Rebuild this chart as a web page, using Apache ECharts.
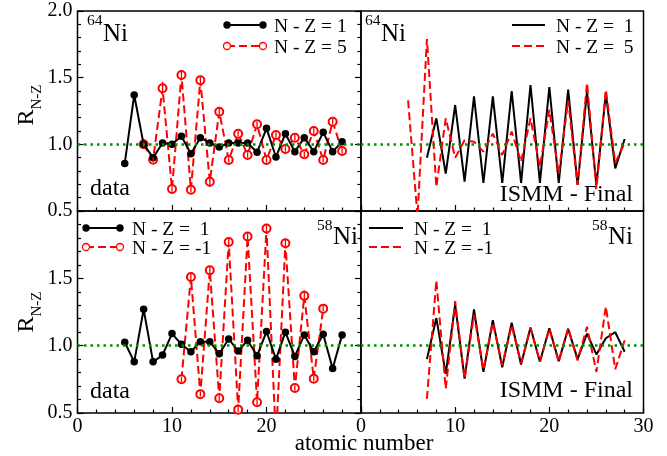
<!DOCTYPE html>
<html>
<head>
<meta charset="utf-8">
<script src="https://cdn.jsdelivr.net/npm/echarts@6/dist/echarts.min.js"></script>
<style>html,body{margin:0;padding:0;background:#fff}#c{width:667px;height:456px}</style>
</head>
<body>
<div id="c"></div>
<script>
// ---------- data (atomic number Z, ratio R_{N-Z}) ----------
// 64Ni data
const tlBlackStart = 5;
const tlBlack = [0.857,1.37,1.0,0.90,1.01,1.0,1.06,0.93,1.05,1.01,0.98,1.01,1.01,1.01,0.94,1.12,0.905,1.08,0.945,1.05,0.945,1.09,0.945,1.02];
const tlRedStart = 7;
const tlRed = [1.0,0.885,1.42,0.665,1.52,0.66,1.48,0.72,1.245,0.883,1.08,0.92,1.15,0.883,1.07,0.965,1.05,0.925,1.10,0.883,1.17,0.95];
const tlRedErr = [0.02,0.02,0.05,0.02,0.03,0.02,0.03,0.04,0.035,0.02,0.02,0.02,0.02,0.02,0.02,0.02,0.02,0.02,0.02,0.02,0.02,0.02];
// 64Ni ISMM - Final
const trBlackStart = 7;
const trBlack = [0.90,1.195,0.78,1.295,0.72,1.36,0.71,1.36,0.71,1.40,0.71,1.445,0.71,1.43,0.71,1.41,0.695,1.395,0.695,1.38,0.82,1.04];
const trRedStart = 5;
const trRed = [1.33,0.46,1.79,0.68,1.195,0.90,1.03,1.02,0.945,1.08,0.92,1.095,0.87,1.195,0.83,1.26,0.78,1.33,0.695,1.46,0.67,1.41,0.86,1.01];
// 58Ni data
const blBlackStart = 5;
const blBlack = [1.025,0.88,1.27,0.88,0.93,1.09,1.01,0.955,1.03,1.03,0.94,1.05,0.96,1.04,0.925,1.105,0.90,1.10,0.92,1.08,0.955,1.085,0.83,1.08];
const blRedStart = 11;
const blRed = [0.75,1.51,0.64,1.56,0.61,1.77,0.525,1.81,0.58,1.87,0.30,1.76,0.685,1.37,0.755,1.275];
const blRedErr = [0.02,0.03,0.02,0.03,0.02,0.03,0.02,0.03,0.02,0.03,0.02,0.03,0.02,0.04,0.02,0.02];
// 58Ni ISMM - Final
const brBlackStart = 7;
const brBlack = [0.90,1.205,0.79,1.305,0.755,1.27,0.805,1.19,0.84,1.17,0.86,1.135,0.88,1.13,0.885,1.125,0.90,1.09,0.935,1.055,1.10,0.955];
const brRedStart = 7;
const brRed = [0.605,1.485,0.68,1.33,0.755,1.23,0.82,1.17,0.855,1.15,0.87,1.13,0.88,1.125,0.88,1.13,0.89,1.14,0.805,1.29,0.825,1.04];

const legendTop = ['N - Z = 1', 'N - Z = 5'];
const legendTopModel = ['N - Z =  1', 'N - Z =  5'];
const legendBottom = ['N - Z =  1', 'N - Z = -1'];
const refLevel = 1.0;

// ---------- helpers ----------
const FONT = "'Liberation Serif','DejaVu Serif',serif";
const pts = (start, arr) => arr.map((v, i) => [start + i, v]);
const ptsErr = (start, arr, err) => arr.map((v, i) => [start + i, v, err[i]]);

const grids = [
  {left: 77.5, top: 11, width: 283.5, height: 200},
  {left: 361, top: 11, width: 282.5, height: 200},
  {left: 77.5, top: 211, width: 283.5, height: 202},
  {left: 361, top: 211, width: 282.5, height: 202}
].map(g => Object.assign({show: true, borderColor: '#000', borderWidth: 1.5, backgroundColor: 'transparent'}, g));

function xAxis(i, labels, hideMax) {
  return {
    type: 'value', gridIndex: i, min: 0, max: 30, interval: 10,
    axisLine: {show: false},
    axisTick: {show: true, inside: true, length: 6, lineStyle: {color: '#000', width: 1.2}},
    minorTick: {show: true, splitNumber: 5, length: 3.5, lineStyle: {color: '#000', width: 1.2}},
    splitLine: {show: false},
    axisLabel: {show: labels, showMaxLabel: !hideMax, margin: 4, color: '#000', fontFamily: FONT, fontSize: 20}
  };
}
function yAxis(i, pos, labels, hideMax) {
  return {
    type: 'value', gridIndex: i, min: 0.5, max: 2.0, interval: 0.5, position: pos,
    axisLine: {show: false},
    axisTick: {show: true, inside: true, length: 6, lineStyle: {color: '#000', width: 1.2}},
    minorTick: {show: true, splitNumber: 5, length: 3.5, lineStyle: {color: '#000', width: 1.2}},
    splitLine: {show: false},
    axisLabel: {show: labels, showMaxLabel: !hideMax, margin: 5, color: '#000', fontFamily: FONT, fontSize: 20,
      formatter: v => v.toFixed(1)}
  };
}

const greenLine = {
  silent: true, symbol: 'none', animation: false,
  label: {show: false},
  lineStyle: {color: '#009000', type: [2.5, 4], width: 2.6},
  data: [{yAxis: refLevel}]
};

function dataBlack(i, data) {
  return {type: 'line', xAxisIndex: i, yAxisIndex: i, data, symbol: 'circle', symbolSize: 7.5,
    showAllSymbol: true, z: 3,
    lineStyle: {color: '#000', width: 2}, itemStyle: {color: '#000'}, markLine: greenLine};
}
function dataRed(i, data) {
  return {type: 'line', xAxisIndex: i, yAxisIndex: i, data, symbol: 'emptyCircle', symbolSize: 8,
    showAllSymbol: true, z: 2,
    lineStyle: {color: '#f00', width: 2, type: [8, 4]},
    itemStyle: {color: '#f00', borderColor: '#f00', borderWidth: 1.3}};
}
function errBars(i, data) {
  return {type: 'custom', xAxisIndex: i, yAxisIndex: i, data, z: 4, clip: true,
    encode: {x: 0, y: 1},
    renderItem: (params, api) => {
      const x = api.value(0), y = api.value(1), e = api.value(2);
      const p1 = api.coord([x, y - e]), p2 = api.coord([x, y + e]);
      return {type: 'line', shape: {x1: p1[0], y1: p1[1], x2: p2[0], y2: p2[1]},
        style: {stroke: '#f00', lineWidth: 1.3}};
    }};
}
function modelBlack(i, data) {
  return {type: 'line', xAxisIndex: i, yAxisIndex: i, data, symbol: 'none', z: 2,
    lineStyle: {color: '#000', width: 2}, markLine: greenLine};
}
function modelRed(i, data) {
  return {type: 'line', xAxisIndex: i, yAxisIndex: i, data, symbol: 'none', z: 3,
    lineStyle: {color: '#f00', width: 2, type: [8, 4]}};
}

// ---------- graphics: legends & annotations ----------
function txt(x, y, text, size, align, extra) {
  return Object.assign({type: 'text', x, y, silent: true,
    style: {text, fill: '#000', font: size + 'px ' + FONT, textAlign: align || 'left', textVerticalAlign: 'middle'}}, extra || {});
}
function legendLine(x1, x2, y, color, dashed, marker) {
  const out = [{type: 'line', silent: true, shape: {x1, y1: y, x2, y2: y},
    style: {stroke: color, lineWidth: 2, lineDash: dashed ? [8, 4] : null}}];
  if (marker === 'filled') {
    out.push({type: 'circle', silent: true, shape: {cx: x1, cy: y, r: 3.7}, style: {fill: color}});
    out.push({type: 'circle', silent: true, shape: {cx: x2, cy: y, r: 3.7}, style: {fill: color}});
  } else if (marker === 'open') {
    out.push({type: 'circle', silent: true, shape: {cx: x1, cy: y, r: 3.5}, style: {fill: '#fff', stroke: color, lineWidth: 1.3}});
    out.push({type: 'circle', silent: true, shape: {cx: x2, cy: y, r: 3.5}, style: {fill: '#fff', stroke: color, lineWidth: 1.3}});
  }
  return out;
}

const graphics = [].concat(
  // top-left legend
  legendLine(227, 263, 25, '#000', false, 'filled'),
  legendLine(227, 263, 46, '#f00', true, 'open'),
  [txt(274, 27, legendTop[0], 19.5), txt(274, 48, legendTop[1], 19.5)],
  // top-right legend
  legendLine(512, 545, 25, '#000', false, null),
  legendLine(512, 545, 46, '#f00', true, null),
  [txt(556, 27, legendTopModel[0], 19.5), txt(556, 48, legendTopModel[1], 19.5)],
  // bottom-left legend
  legendLine(86, 120, 228, '#000', false, 'filled'),
  legendLine(86, 120, 247, '#f00', true, 'open'),
  [txt(132, 230, legendBottom[0], 19.5), txt(132, 249, legendBottom[1], 19.5)],
  // bottom-right legend
  legendLine(369, 403, 228, '#000', false, null),
  legendLine(369, 403, 247, '#f00', true, null),
  [txt(414, 230, legendBottom[0], 19.5), txt(414, 249, legendBottom[1], 19.5)],
  // nucleus labels
  [txt(87, 21, '64', 15.5), txt(103, 34, 'Ni', 25),
   txt(365, 21, '64', 15.5), txt(381, 34, 'Ni', 25),
   txt(317, 226, '58', 15.5), txt(333, 237, 'Ni', 25),
   txt(592, 226, '58', 15.5), txt(608, 237, 'Ni', 25)],
  // panel texts
  [txt(90, 189, 'data', 24), txt(90, 392, 'data', 24),
   txt(633, 195, 'ISMM - Final', 24, 'right'), txt(633, 391, 'ISMM - Final', 24, 'right')],
  // axis titles
  [txt(364, 444, 'atomic number', 23, 'center'),
   {type: 'text', x: 27, y: 105, rotation: Math.PI / 2, silent: true,
    style: {text: '{r|R}{s|N-Z}', textAlign: 'center', textVerticalAlign: 'middle',
      rich: {r: {fontFamily: FONT, fontSize: 24, fill: '#000', verticalAlign: 'bottom'},
             s: {fontFamily: FONT, fontSize: 15, fill: '#000', verticalAlign: 'bottom', padding: [0, 0, -6, 0]}}}},
   {type: 'text', x: 27, y: 312, rotation: Math.PI / 2, silent: true,
    style: {text: '{r|R}{s|N-Z}', textAlign: 'center', textVerticalAlign: 'middle',
      rich: {r: {fontFamily: FONT, fontSize: 24, fill: '#000', verticalAlign: 'bottom'},
             s: {fontFamily: FONT, fontSize: 15, fill: '#000', verticalAlign: 'bottom', padding: [0, 0, -6, 0]}}}}]
);

const chart = echarts.init(document.getElementById('c'), null, {renderer: 'canvas'});
chart.setOption({
  animation: false,
  backgroundColor: '#fff',
  grid: grids,
  xAxis: [xAxis(0, false, false), xAxis(1, false, false), xAxis(2, true, true), xAxis(3, true, false)],
  yAxis: [yAxis(0, 'left', true, false), yAxis(1, 'right', false, false), yAxis(2, 'left', true, true), yAxis(3, 'right', false, false)],
  series: [
    dataBlack(0, pts(tlBlackStart, tlBlack)),
    dataRed(0, pts(tlRedStart, tlRed)),
    errBars(0, ptsErr(tlRedStart, tlRed, tlRedErr)),
    modelBlack(1, pts(trBlackStart, trBlack)),
    modelRed(1, pts(trRedStart, trRed)),
    dataBlack(2, pts(blBlackStart, blBlack)),
    dataRed(2, pts(blRedStart, blRed)),
    errBars(2, ptsErr(blRedStart, blRed, blRedErr)),
    modelBlack(3, pts(brBlackStart, brBlack)),
    modelRed(3, pts(brRedStart, brRed))
  ],
  graphic: graphics
});
</script>
</body>
</html>
